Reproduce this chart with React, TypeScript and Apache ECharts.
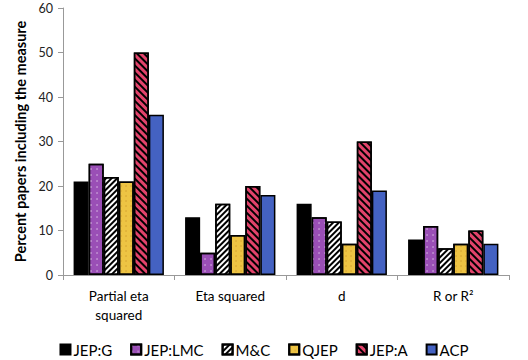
import React, { useEffect, useRef } from "react";
import * as echarts from "echarts";

const categories = ["Partial eta\nsquared", "Eta squared", "d", "R or R²"];
const seriesNames = ["JEP:G", "JEP:LMC", "M&C", "QJEP", "JEP:A", "ACP"];
const jepG = [21, 13, 16, 8];
const jepLMC = [25, 5, 13, 11];
const mc = [22, 16, 12, 6];
const qjep = [21, 9, 7, 7];
const jepA = [50, 20, 30, 10];
const acp = [36, 18, 19, 7];
const yTicks = { min: 0, max: 60, interval: 10 };

const FONT = "Lato, 'Open Sans', sans-serif";

export default function App() {
  const ref = useRef<HTMLDivElement>(null);
  useEffect(() => {
    if (!ref.current) return;
    const chart = echarts.init(ref.current, undefined, { renderer: "svg" });
    const values = [jepG, jepLMC, mc, qjep, jepA, acp];
    const colors = ["#000000", "#9a4fb6", "#ffffff", "#eec443", "#e2436b", "#4462c2"];
    const decals: any[] = [
      undefined,
      { symbol: "circle", symbolSize: 0.6, dashArrayX: [2, 4], dashArrayY: [2, 4], color: "rgba(255,255,255,0.8)" },
      { symbol: "rect", symbolSize: 1, dashArrayX: [1, 0], dashArrayY: [2, 2], rotation: -Math.PI / 4, color: "#000000" },
      { symbol: "circle", symbolSize: 0.6, dashArrayX: [2, 3], dashArrayY: [2, 3], color: "rgba(190,130,30,0.7)" },
      { symbol: "rect", symbolSize: 1, dashArrayX: [1, 0], dashArrayY: [2, 2.5], rotation: Math.PI / 4, color: "#000000" },
      undefined,
    ];
    chart.setOption({
      animation: false,
      textStyle: { fontFamily: FONT },
      grid: { left: 63, right: 19, top: 8, bottom: 85 },
      legend: {
        top: 337,
        left: "center",
        itemWidth: 10,
        itemHeight: 10,
        itemGap: 18,
        icon: "rect",
        textStyle: { fontSize: 15, color: "#000", fontFamily: FONT, padding: [0, 0, 0, -2] },
        data: seriesNames,
      },
      xAxis: {
        type: "category",
        data: categories,
        axisLine: { lineStyle: { color: "#999" } },
        axisTick: { show: true, length: 5, lineStyle: { color: "#999" } },
        axisLabel: { fontSize: 13.5, color: "#000", margin: 11, lineHeight: 19, fontFamily: FONT },
      },
      yAxis: {
        type: "value",
        ...yTicks,
        name: "Percent papers including the measure",
        nameLocation: "middle",
        nameGap: 33,
        nameTextStyle: { fontSize: 14.5, fontWeight: "bold", color: "#000", fontFamily: FONT },
        axisLine: { show: true, lineStyle: { color: "#999" } },
        axisTick: { show: true, length: 5, lineStyle: { color: "#999" } },
        splitLine: { show: false },
        axisLabel: { fontSize: 12.5, color: "#222", margin: 10, fontFamily: FONT },
      },
      series: seriesNames.map((name, i) => ({
        name,
        type: "bar",
        data: values[i],
        barGap: "0%",
        barCategoryGap: "19%",
        itemStyle: {
          color: colors[i],
          borderColor: "#000",
          borderWidth: 1.5,
          decal: decals[i],
        },
      })),
    });
    return () => chart.dispose();
  }, []);
  return <div ref={ref} style={{ position: "absolute", left: 0, top: 0, width: 528, height: 360 }} />;
}
